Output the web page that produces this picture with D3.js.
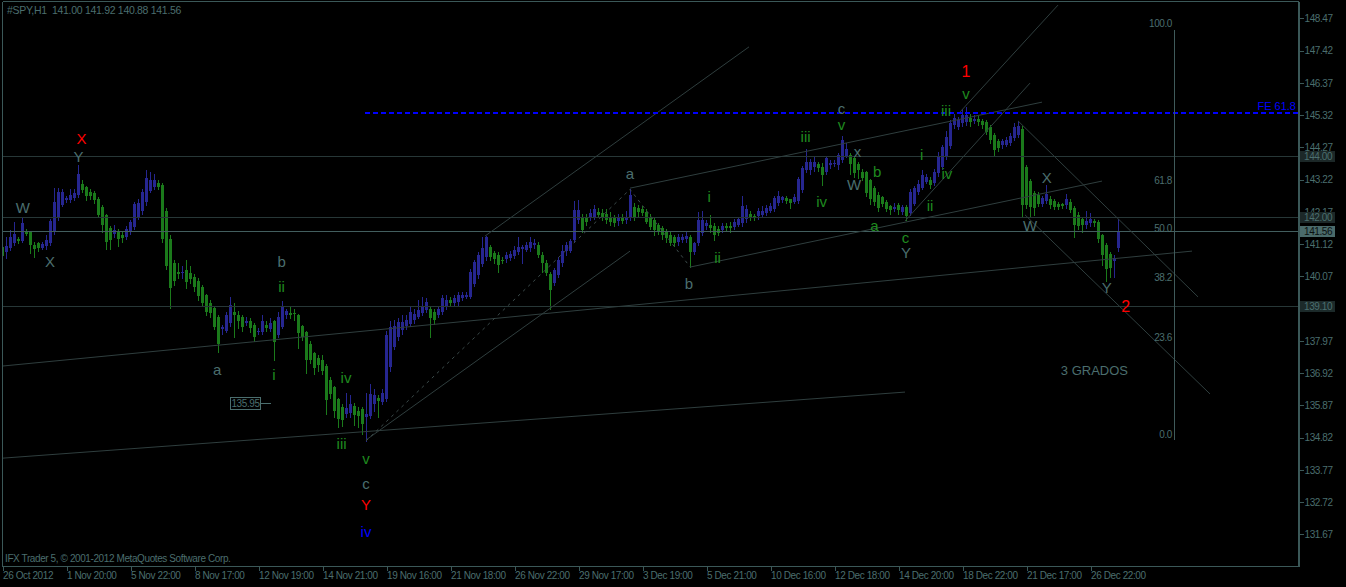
<!DOCTYPE html>
<html><head><meta charset="utf-8">
<script src="https://cdn.jsdelivr.net/npm/d3@7"></script>
<style>html,body{margin:0;padding:0;background:#000;overflow:hidden}svg{display:block}text{white-space:pre}</style>
</head><body>
<script>
// ---------- DATA ----------
const opens=[
141.01,140.87,140.98,141.15,141.29,141.23,141.53,141.50,141.10,141.15,
141.00,141.06,141.17,141.50,142.00,142.40,142.56,142.56,142.61,142.72,
143.08,142.97,142.83,142.77,142.59,142.34,142.07,141.63,141.45,141.53,
141.40,141.36,141.50,141.69,142.01,142.21,142.50,142.86,142.99,143.10,
143.05,142.20,141.30,140.50,140.21,140.17,140.28,140.17,140.06,139.93,
139.73,139.46,139.19,139.03,138.76,138.34,138.30,138.54,138.90,138.81,
138.76,138.54,138.60,138.48,138.25,138.25,138.50,138.35,138.60,138.15,
138.43,138.80,138.88,138.87,138.80,138.45,138.26,137.88,137.56,137.40,
137.35,137.16,136.71,136.45,136.09,135.80,135.58,135.62,135.85,135.69,
135.74,135.50,135.52,135.90,136.10,135.98,136.06,137.12,137.77,138.10,
138.32,138.45,138.53,138.64,138.75,138.86,138.97,139.02,138.91,138.81,
138.91,139.08,139.29,139.21,139.24,139.35,139.38,139.40,139.82,140.11,
140.47,140.71,141.03,140.84,140.76,140.60,140.62,140.65,140.73,140.87,
140.96,140.94,140.98,141.09,141.09,140.76,140.51,140.16,139.84,140.11,
140.49,140.90,140.90,141.25,141.90,141.96,141.96,141.96,142.01,142.17,
142.12,142.10,142.01,141.99,141.88,141.96,141.90,141.96,142.32,142.28,
142.25,142.17,142.01,141.90,141.74,141.63,141.52,141.41,141.34,141.20,
141.25,141.27,141.36,140.87,141.14,141.47,141.70,141.74,141.71,141.60,
141.58,141.71,141.70,141.66,141.74,141.79,141.92,142.10,142.03,142.03,
142.07,142.12,142.21,142.25,142.45,142.55,142.61,142.58,142.50,142.53,
142.88,143.53,143.53,143.64,143.73,143.64,143.48,143.69,143.73,143.69,
143.86,144.00,144.02,143.91,143.74,143.47,143.45,143.20,142.93,142.73,
142.66,142.50,142.36,142.26,142.39,142.15,142.33,142.12,142.44,142.82,
142.93,143.15,143.20,143.12,143.42,143.63,143.96,144.32,144.99,144.94,
145.05,145.10,145.23,145.12,145.19,145.12,145.10,144.94,144.67,144.47,
144.34,144.36,144.40,144.56,144.67,144.88,143.64,143.17,142.77,142.71,
142.44,142.52,142.60,142.52,142.44,142.41,142.39,142.50,142.28,142.08,
141.93,141.74,141.79,141.87,141.84,141.41,141.08,140.78,140.56,141.00];
const highs=[
141.15,141.36,141.58,141.85,141.35,142.01,141.60,141.55,141.20,141.20,
141.20,141.40,141.95,142.93,142.93,142.90,142.70,142.90,142.90,143.70,
143.20,143.00,142.90,142.85,142.65,142.40,142.10,141.70,141.75,141.60,
141.50,141.70,141.90,142.50,142.60,142.90,143.53,143.45,143.40,143.20,
143.10,142.30,141.40,140.60,140.50,140.40,140.60,140.40,140.15,140.00,
139.80,139.50,139.30,139.10,138.80,138.50,138.90,139.40,139.20,138.95,
138.80,138.75,138.70,138.55,138.40,138.80,138.60,138.70,138.65,138.90,
139.26,139.00,139.10,139.02,138.85,138.50,138.30,137.95,137.62,137.50,
137.50,137.20,136.80,136.50,136.10,135.90,136.28,136.20,135.95,135.80,
135.80,136.27,136.56,136.40,136.20,136.40,138.30,138.60,138.64,138.70,
138.80,138.81,139.08,139.00,139.29,139.38,139.35,139.10,139.00,139.10,
139.45,139.45,139.40,139.45,139.55,139.55,139.55,140.30,140.60,140.85,
141.36,141.38,141.10,140.90,140.85,140.70,140.85,140.90,141.05,141.34,
141.10,141.20,141.36,141.30,141.20,140.85,140.60,140.20,140.35,140.70,
141.09,141.20,141.30,142.53,142.55,142.10,142.10,142.25,142.40,142.30,
142.25,142.25,142.15,142.05,142.10,142.10,142.20,142.90,142.45,142.40,
142.35,142.25,142.10,142.00,141.80,141.70,141.60,141.50,141.40,141.45,
141.45,141.50,141.40,141.20,142.17,142.20,141.90,142.05,141.80,141.70,
141.80,141.80,141.85,141.95,142.00,142.68,142.40,142.20,142.10,142.30,
142.35,142.40,142.45,142.70,142.85,142.70,142.70,142.60,142.75,143.30,
143.65,144.20,143.90,143.95,143.80,143.75,144.00,143.85,143.85,144.10,
144.65,144.40,144.10,144.00,143.80,143.55,143.50,143.25,143.00,142.80,
142.70,142.55,142.40,142.45,142.45,142.40,142.40,142.90,143.00,143.20,
143.53,143.40,143.30,143.55,144.12,144.35,144.80,145.15,145.37,145.25,
145.51,145.59,145.35,145.32,145.30,145.20,145.15,145.00,144.75,144.55,
144.55,144.60,144.75,145.05,145.12,144.95,143.70,143.25,142.85,142.80,
142.70,143.04,142.70,142.60,142.50,142.45,142.75,142.60,142.35,142.15,
142.00,142.20,142.12,141.95,141.90,141.45,141.15,140.85,140.75,141.92];
const lows=[
140.60,140.66,140.93,141.09,141.15,141.20,141.40,140.84,140.69,140.90,
140.95,140.95,141.10,141.45,141.90,142.35,142.50,142.50,142.55,142.65,
142.80,142.55,142.60,142.45,142.00,141.50,140.95,140.95,141.35,141.05,
141.20,141.30,141.45,141.60,141.95,142.10,142.40,142.80,142.90,142.90,
141.20,140.30,139.05,139.80,140.00,140.00,139.70,139.85,139.60,139.30,
139.10,138.80,138.75,138.35,137.60,138.20,138.25,138.45,138.10,138.40,
138.30,138.50,138.25,137.95,138.20,138.20,138.30,138.30,137.35,138.10,
138.40,138.70,138.70,138.64,137.72,138.00,136.91,137.25,136.88,137.00,
136.90,135.60,136.10,135.49,135.17,135.20,135.50,135.50,135.22,135.17,
134.95,134.70,135.45,135.70,135.50,135.90,136.00,137.00,137.70,138.00,
138.20,138.35,138.45,138.55,138.70,138.80,138.90,138.08,138.53,138.75,
138.85,139.00,139.10,139.10,139.15,139.30,139.35,139.35,139.75,140.00,
140.40,140.60,140.60,140.50,140.22,140.50,140.55,140.60,140.65,140.80,
140.49,140.90,140.90,141.00,140.70,140.22,140.10,139.02,139.80,140.05,
140.40,140.75,140.85,141.20,141.80,141.50,141.75,141.90,141.95,142.00,
141.90,141.80,141.75,141.70,141.75,141.80,141.80,141.90,141.90,142.00,
142.05,141.80,141.60,141.40,141.45,141.30,141.20,141.10,141.05,141.10,
141.20,141.20,140.38,140.80,141.10,141.40,141.60,141.50,141.25,141.40,
141.50,141.55,141.50,141.60,141.70,141.70,141.85,141.90,141.90,141.95,
142.00,142.05,142.15,142.20,142.40,142.50,142.45,142.30,142.45,142.45,
142.80,143.45,143.40,143.50,143.50,143.04,143.40,143.60,143.65,143.55,
143.80,143.95,143.40,143.31,143.28,143.20,142.70,142.44,142.40,142.20,
142.35,142.20,142.10,142.20,142.10,142.10,141.90,142.05,142.40,142.75,
142.90,143.10,142.95,143.05,143.35,143.55,143.90,144.25,144.90,144.85,
144.95,145.00,144.95,145.05,145.00,144.90,144.70,144.40,143.99,144.15,
144.25,144.30,144.35,144.50,144.60,142.04,142.30,142.04,142.06,142.35,
142.35,142.45,142.30,142.25,142.25,142.30,142.30,142.15,141.36,141.60,
141.50,141.65,141.70,141.70,141.20,140.43,139.91,140.05,140.05,140.88];
const closes=[
140.73,141.06,141.34,141.45,141.21,141.82,141.45,141.09,140.95,140.98,
141.12,141.25,141.88,142.50,142.81,142.81,142.63,142.72,142.77,143.40,
142.88,142.69,142.70,142.56,142.07,141.74,141.20,141.25,141.58,141.29,
141.32,141.61,141.83,142.42,142.45,142.81,143.26,143.21,143.19,142.99,
141.29,140.39,139.68,139.93,140.14,140.22,139.90,139.97,139.73,139.43,
139.19,138.92,138.87,138.43,137.86,138.42,138.81,139.12,138.80,138.60,
138.43,138.63,138.38,138.08,138.30,138.63,138.40,138.56,137.94,138.75,
139.06,138.95,138.80,138.83,138.21,138.10,137.35,137.35,137.10,137.18,
136.98,136.05,136.25,135.70,135.42,135.38,135.77,135.91,135.55,135.52,
135.26,135.60,136.24,136.20,136.00,136.28,138.15,138.43,138.45,138.59,
138.59,138.64,138.91,138.84,138.97,139.10,139.24,138.70,138.66,139.02,
139.35,139.29,139.21,139.35,139.46,139.46,139.46,140.22,140.54,140.76,
140.98,141.36,140.71,140.62,140.43,140.57,140.76,140.81,140.94,141.03,
141.01,141.09,141.19,141.16,140.76,140.49,140.18,139.62,140.27,140.60,
140.90,141.09,141.23,142.23,142.23,141.58,141.85,142.14,142.25,142.07,
142.01,141.90,141.85,141.79,141.96,141.88,141.99,142.72,142.01,142.17,
142.12,141.85,141.69,141.58,141.52,141.41,141.31,141.16,141.14,141.36,
141.36,141.38,140.87,141.14,141.90,141.90,141.79,141.63,141.41,141.49,
141.71,141.63,141.63,141.85,141.92,142.36,142.25,142.01,142.01,142.21,
142.21,142.28,142.36,142.61,142.68,142.64,142.53,142.47,142.66,143.23,
143.59,143.80,143.80,143.80,143.59,143.37,143.91,143.77,143.77,144.02,
144.50,144.23,143.74,143.42,143.53,143.28,142.77,142.60,142.50,142.28,
142.44,142.26,142.22,142.33,142.22,142.33,142.04,142.82,142.93,143.09,
143.36,143.31,143.04,143.47,143.96,144.29,144.61,145.07,145.21,145.16,
145.32,145.32,145.08,145.19,145.10,144.99,144.78,144.50,144.18,144.26,
144.47,144.50,144.65,144.94,144.97,142.39,142.39,142.33,142.28,142.44,
142.63,142.74,142.39,142.33,142.33,142.35,142.58,142.22,141.74,141.71,
141.74,141.87,141.93,141.79,141.30,140.76,140.32,140.35,140.65,141.56];

const timeLabels=["26 Oct 2012","1 Nov 20:00","5 Nov 22:00","8 Nov 17:00","12 Nov 19:00","14 Nov 21:00",
"19 Nov 16:00","21 Nov 18:00","26 Nov 22:00","29 Nov 17:00","3 Dec 19:00","5 Dec 21:00",
"10 Dec 16:00","12 Dec 18:00","14 Dec 20:00","18 Dec 22:00","21 Dec 17:00","26 Dec 22:00"];
const timeTickStep=16;
const priceTicks=[148.47,147.42,146.37,145.32,144.27,143.22,142.17,141.12,140.07,139.02,137.97,136.92,135.87,134.82,133.77,132.72,131.67];

const symbolTitle="#SPY,H1  141.00 141.92 140.88 141.56";
const copyright="IFX Trader 5, \u00A9 2001-2012 MetaQuotes Software Corp.";

const levels=[144.00,142.00,139.10];
const bid=141.56;
const feLevel={label:"FE 61.8",price:145.39,fromBar:90.75};
const fibBar=293, fibLow=134.74, fibHigh=148.09;
const fibLevels=[100.0,61.8,50.0,38.2,23.6,0.0];
const trendLines=[
 [0.25,134.15,225.75,136.30],
 [0.25,137.15,297.5,140.89],
 [120.75,141.38,186.75,147.54],
 [91,134.74,157,140.89],
 [157,142.94,260,145.74],
 [172,140.37,275,143.17],
 [225.75,141.87,257,146.36],
 [239.5,145.42,264,148.90],
 [254,145.13,299,139.40],
 [255.75,142.07,302,136.24]
];
const zigzag=[[91,134.71],[157,142.90],[172,140.38]];
const priceLabel={bar:57,price:135.95};
const waveLabels=[
 ["X",19.9,144.56,"r",15],["Y",19.1,143.96,"g",15],["W",5.2,142.32,"g",15],["X",12.0,140.54,"g",15],
 ["b",69.9,140.54,"g",15],["ii",69.9,139.75,"G",15],["a",53.8,137.02,"g",15],["i",68.0,136.86,"G",15],
 ["iv",86.0,136.78,"G",15],["iii",84.9,134.63,"G",15],["v",91.0,134.14,"G",15],["c",91.0,133.33,"g",15],
 ["Y",91.0,132.65,"r",15],["iv",91.0,131.75,"b",15],
 ["a",157,143.42,"g",15],["b",171.75,139.85,"g",15],["i",176.8,142.66,"G",15],["ii",178.9,140.69,"G",15],
 ["iii",200.9,144.61,"G",15],["iv",204.9,142.52,"G",15],["c",209.9,145.52,"g",15],["v",209.9,145.02,"G",15],
 ["x",213.9,144.13,"g",15],["W",213.0,143.06,"g",15],["b",218.8,143.47,"G",15],["a",218.1,141.74,"G",15],
 ["c",225.9,141.33,"G",15],["Y",226.0,140.84,"g",15],["i",229.9,144.05,"G",15],["iv",236.2,143.43,"G",15],
 ["ii",232.0,142.39,"G",15],["iii",236.0,145.48,"G",15],["v",241.0,146.03,"G",15],["1",241.0,146.73,"r",16],
 ["X",261.2,143.30,"g",15],["W",257.0,141.71,"g",15],["Y",276.2,139.69,"g",15],["2",280.9,139.10,"r",16]
];
const noteText={text:"3 GRADOS",bar:273.1,price:136.99};

// ---------- STYLE ----------
const C={bg:"#000",text:"#4b6e6e",frame:"#3b5858",bull:"#262690",bear:"#1b7a1b",
 trend:"#2f3e3e",level:"#273737",bidLine:"#425e5e",blue:"#0000ff",
 r:"#ff0000",g:"#4b6e6e",G:"#1f8a1f",b:"#0000ff"};
const FONT="'Liberation Sans',Arial,sans-serif";
const W=1346,H=587;
const plot={l:3,t:2,r:1298,b:566};

const svg=d3.select("body").append("svg").attr("width",W).attr("height",H);
svg.append("rect").attr("width",W).attr("height",H).attr("fill",C.bg);

const n=closes.length;
const x=d3.scaleLinear().domain([0,n-1]).range([2,2+4*(n-1)]);
const y=d3.scaleLinear().domain([148.47,131.67]).range([18.3,534.3]);
const ry=v=>Math.round(y(v))+0.5;

svg.append("clipPath").attr("id","clip").append("rect")
 .attr("x",plot.l).attr("y",plot.t).attr("width",plot.r-plot.l).attr("height",plot.b-plot.t);
const g=svg.append("g").attr("clip-path","url(#clip)");

// candles
const idx=d3.range(n);
const cg=g.append("g").attr("shape-rendering","crispEdges");
cg.selectAll("line.w").data(idx).join("line")
 .attr("x1",i=>Math.round(x(i))+0.5).attr("x2",i=>Math.round(x(i))+0.5)
 .attr("y1",i=>y(Math.max(highs[i],opens[i],closes[i])))
 .attr("y2",i=>y(Math.min(lows[i],opens[i],closes[i]))+1)
 .attr("stroke",i=>closes[i]>=opens[i]?C.bull:C.bear).attr("stroke-width",1);
cg.selectAll("rect.b").data(idx).join("rect")
 .attr("x",i=>Math.round(x(i))-1).attr("width",3)
 .attr("y",i=>y(Math.max(opens[i],closes[i])))
 .attr("height",i=>Math.max(1,Math.abs(y(opens[i])-y(closes[i]))))
 .attr("fill",i=>closes[i]>=opens[i]?C.bull:C.bear);

// horizontal levels
const lg=g.append("g").attr("shape-rendering","crispEdges");
lg.selectAll("line").data(levels).join("line")
 .attr("x1",plot.l).attr("x2",plot.r).attr("y1",ry).attr("y2",ry).attr("stroke",C.level);
lg.append("line").attr("x1",plot.l).attr("x2",plot.r).attr("y1",ry(bid)).attr("y2",ry(bid)).attr("stroke",C.bidLine);

// trend lines
g.append("g").selectAll("line").data(trendLines).join("line")
 .attr("x1",d=>x(d[0])).attr("y1",d=>y(d[1])).attr("x2",d=>x(d[2])).attr("y2",d=>y(d[3]))
 .attr("stroke",C.trend).attr("stroke-width",1);

// zigzag dashed
g.append("path").datum(zigzag)
 .attr("d",d3.line().x(d=>x(d[0])).y(d=>y(d[1])))
 .attr("fill","none").attr("stroke","#3c4b4b").attr("stroke-dasharray","3,4");

// FE dashed line
g.append("line").attr("x1",x(feLevel.fromBar)).attr("x2",plot.r).attr("y1",Math.round(y(feLevel.price))).attr("y2",Math.round(y(feLevel.price)))
 .attr("stroke",C.blue).attr("stroke-width",2).attr("stroke-dasharray","5,3").attr("shape-rendering","crispEdges");
svg.append("text").attr("x",plot.r-2).attr("y",Math.round(y(feLevel.price))-3).attr("text-anchor","end")
 .attr("fill",C.blue).attr("font-family",FONT).attr("font-size",11).text(feLevel.label);

// fib vertical
g.append("line").attr("x1",Math.round(x(fibBar))+0.5).attr("x2",Math.round(x(fibBar))+0.5)
 .attr("y1",y(fibHigh)).attr("y2",y(fibLow)).attr("stroke","#3f5a5a").attr("shape-rendering","crispEdges");
g.append("g").selectAll("text").data(fibLevels).join("text")
 .attr("x",x(fibBar)-2).attr("y",d=>y(fibLow+(fibHigh-fibLow)*d/100)-6)
 .attr("text-anchor","end").attr("dominant-baseline","central")
 .attr("fill",C.text).attr("font-family",FONT).attr("font-size",10).attr("letter-spacing",-0.4)
 .text(d=>d.toFixed(1));

// price label object
const plg=g.append("g").attr("shape-rendering","crispEdges");
const plx=Math.round(x(priceLabel.bar))+0.5, ply=Math.round(y(priceLabel.price))+0.5;
plg.append("rect").attr("x",plx).attr("y",ply-6).attr("width",30).attr("height",12).attr("fill","none").attr("stroke",C.text);
plg.append("line").attr("x1",plx+30).attr("x2",plx+40).attr("y1",ply).attr("y2",ply).attr("stroke",C.text);
g.append("text").attr("x",plx+15).attr("y",ply).attr("text-anchor","middle").attr("dominant-baseline","central")
 .attr("fill",C.text).attr("font-family",FONT).attr("font-size",10).attr("letter-spacing",-0.4).text(priceLabel.price.toFixed(2));

// wave labels
g.append("g").selectAll("text").data(waveLabels).join("text")
 .attr("x",d=>x(d[1])).attr("y",d=>y(d[2])).attr("text-anchor","middle").attr("dominant-baseline","central")
 .attr("fill",d=>C[d[3]]).attr("font-family",FONT).attr("font-size",d=>d[4]).text(d=>d[0]);
g.append("text").attr("x",x(noteText.bar)).attr("y",y(noteText.price)).attr("text-anchor","middle")
 .attr("dominant-baseline","central").attr("fill",C.text).attr("font-family",FONT).attr("font-size",13).text(noteText.text);

// frame
const fg=svg.append("g").attr("shape-rendering","crispEdges").attr("stroke",C.frame).attr("fill","none");
fg.append("line").attr("x1",2.5).attr("x2",2.5).attr("y1",1.5).attr("y2",566.5);
fg.append("line").attr("x1",2.5).attr("x2",1299).attr("y1",1.5).attr("y2",1.5);
fg.append("line").attr("x1",2.5).attr("x2",1300).attr("y1",566.5).attr("y2",566.5);
fg.append("line").attr("x1",1298.5).attr("x2",1298.5).attr("y1",1.5).attr("y2",567).attr("stroke-width",2);

// right axis
const yAxis=d3.axisRight(y).tickValues(priceTicks).tickFormat(d3.format(".2f")).tickSize(4).tickSizeOuter(0);
const ya=svg.append("g").attr("transform","translate(1299.5,0)").call(yAxis);
ya.select(".domain").remove();
ya.selectAll(".tick line").attr("stroke",C.frame).attr("shape-rendering","crispEdges");
ya.selectAll(".tick text").attr("x",5).attr("fill",C.text).attr("font-family",FONT).attr("font-size",10).attr("letter-spacing",-0.4);

// bottom axis
const xAxis=d3.axisBottom(x).tickValues(d3.range(0,n,timeTickStep)).tickFormat((d,k)=>timeLabels[k]).tickSize(4).tickSizeOuter(0);
const xa=svg.append("g").attr("transform","translate(0.5,566.5)").call(xAxis);
xa.select(".domain").remove();
xa.selectAll(".tick line").attr("stroke",C.frame).attr("shape-rendering","crispEdges");
xa.selectAll(".tick text").attr("text-anchor","start").attr("x",0).attr("y",5).attr("dy","0.71em")
 .attr("fill",C.text).attr("font-family",FONT).attr("font-size",10).attr("letter-spacing",-0.4);

// right-side price boxes
const boxes=[{p:144.00,fill:"#1c2828",col:C.text},{p:142.00,fill:"#1c2828",col:C.text},
 {p:139.10,fill:"#1c2a2a",col:C.text},{p:bid,fill:"#4a6a6a",col:"#0a1010"}];
const bg=svg.append("g");
boxes.forEach(b=>{
 const yy=Math.round(y(b.p));
 bg.append("rect").attr("x",1300).attr("y",yy-5).attr("width",35).attr("height",11).attr("fill",b.fill);
 bg.append("text").attr("x",1304).attr("y",yy+0.5).attr("dominant-baseline","central").attr("fill",b.col)
  .attr("font-family",FONT).attr("font-size",10).attr("letter-spacing",-0.4).text(b.p.toFixed(2));
});

// title & copyright
svg.append("text").attr("x",7).attr("y",10).attr("dominant-baseline","central").attr("fill",C.text)
 .attr("font-family",FONT).attr("font-size",10.5).attr("letter-spacing",-0.3).attr("xml:space","preserve").text(symbolTitle);
svg.append("text").attr("x",5).attr("y",558).attr("dominant-baseline","central").attr("fill",C.text)
 .attr("font-family",FONT).attr("font-size",10).attr("letter-spacing",-0.4).text(copyright);
</script>
</body></html>
